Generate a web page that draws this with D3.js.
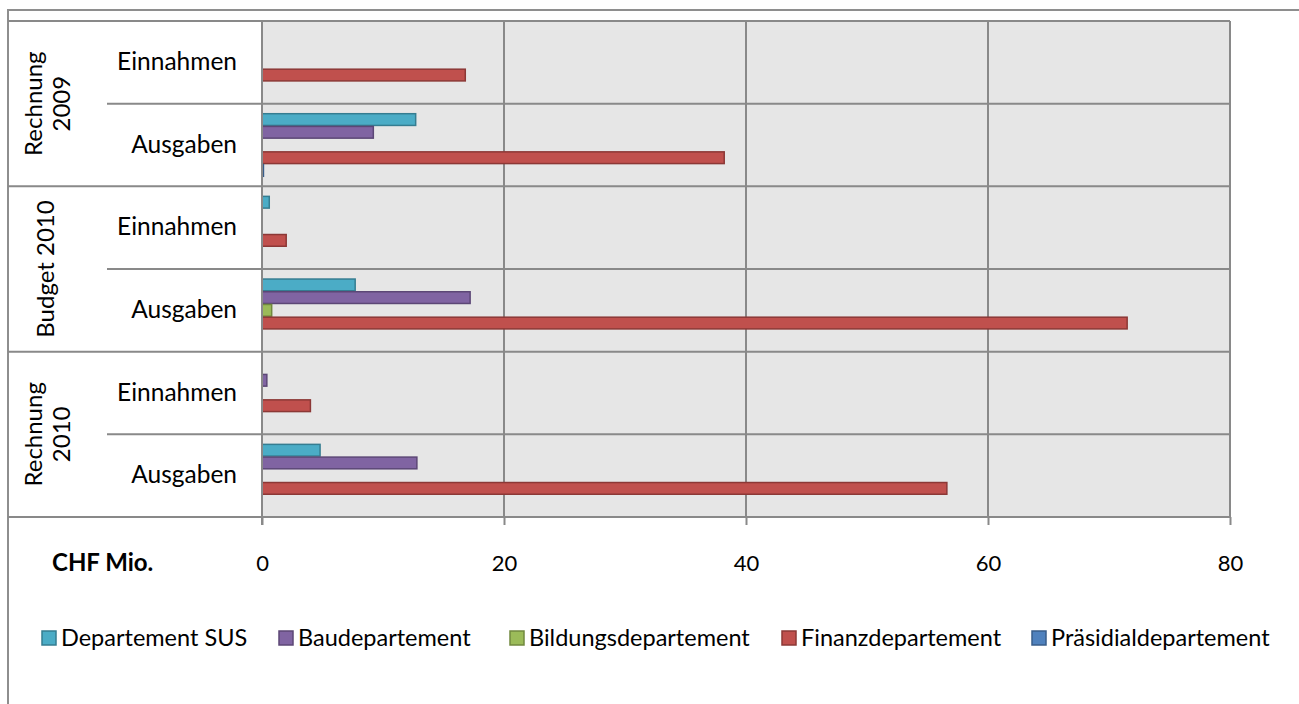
<!DOCTYPE html>
<html>
<head>
<meta charset="utf-8">
<script src="https://cdn.jsdelivr.net/npm/d3@7"></script>
<style>
  body { margin: 0; background: #fff; }
  svg text { font-family: Lato, "Noto Sans", sans-serif; fill: #000; }
</style>
</head>
<body>
<div id="chart"></div>
<script>
// data (CHF Mio.)
var groups = ["Rechnung 2009", "Budget 2010", "Rechnung 2010"];
var groupLines = [["Rechnung", "2009"], ["Budget 2010"], ["Rechnung", "2010"]];
var subCats = ["Einnahmen", "Ausgaben"];
var seriesNames = ["Departement SUS", "Baudepartement", "Bildungsdepartement", "Finanzdepartement", "Präsidialdepartement"];
var seriesColors = ["#4bacc6", "#8064a2", "#9bbb59", "#c0504d", "#4f81bd"];
var seriesStroke = ["#357d91", "#5c4776", "#71893f", "#8c3836", "#385d8a"];
// order of rows: R2009 Ein, R2009 Aus, B2010 Ein, B2010 Aus, R2010 Ein, R2010 Aus
var sus = [0, 12.7, 0.6, 7.7, 0, 4.8];
var bau = [0, 9.2, 0, 17.2, 0.4, 12.8];
var bildung = [0, 0, 0, 0.8, 0, 0];
var finanz = [16.8, 38.2, 2.0, 71.5, 4.0, 56.6];
var praesidial = [0, 0.12, 0, 0, 0, 0];
var xTicks = [0, 20, 40, 60, 80];

var seriesValues = [sus, bau, bildung, finanz, praesidial];

var svgWidth = 1299, svgHeight = 704;
var plot = { left: 262, right: 1230, top: 21, bottom: 517 };
var gridColor = "#898989";

var svg = d3.select("#chart").append("svg")
  .attr("width", svgWidth)
  .attr("height", svgHeight);

// chart area border (only top and left visible)
svg.append("path")
  .attr("d", "M8,704 V10 H1299")
  .attr("fill", "none")
  .attr("stroke", "#8e8e8e")
  .attr("stroke-width", 2);

var x = d3.scaleLinear().domain([0, 80]).range([plot.left, plot.right]);

var rows = [];
groups.forEach(function(g, gi) {
  subCats.forEach(function(s, si) { rows.push({ group: g, gi: gi, sub: s, idx: gi * 2 + si }); });
});

var y = d3.scaleBand()
  .domain(rows.map(d => d.idx))
  .range([plot.top, plot.bottom])
  .padding(0);

// gap width 150% -> the 5 bars take 5 of 6.5 units of a row
var barW = y.bandwidth() / 6.5;
var yInner = d3.scaleBand()
  .domain(seriesNames)
  .range([barW * 0.75, y.bandwidth() - barW * 0.75])
  .padding(0);

// plot background
svg.append("rect")
  .attr("x", plot.left).attr("y", plot.top)
  .attr("width", plot.right - plot.left).attr("height", plot.bottom - plot.top)
  .attr("fill", "#e6e6e6");

// vertical gridlines
svg.append("g").selectAll("line")
  .data(xTicks.filter(d => d > 0))
  .enter().append("line")
  .attr("x1", d => x(d)).attr("x2", d => x(d))
  .attr("y1", plot.top).attr("y2", plot.bottom)
  .attr("stroke", gridColor).attr("stroke-width", 2);

// horizontal lines: group boundaries reach the chart edge, sub boundaries only the inner label column
var bounds = d3.range(rows.length + 1).map(function(i) {
  return { y: plot.top + i * y.bandwidth(), outer: i % 2 === 0 };
});
svg.append("g").selectAll("line")
  .data(bounds)
  .enter().append("line")
  .attr("x1", d => d.outer ? 8 : 107)
  .attr("x2", plot.right)
  .attr("y1", d => d.y).attr("y2", d => d.y)
  .attr("stroke", gridColor).attr("stroke-width", 2);

// bars
var barData = [];
rows.forEach(function(r) {
  seriesNames.forEach(function(s, si) {
    var v = seriesValues[si][r.idx];
    if (v > 0) barData.push({ row: r.idx, series: s, si: si, value: v });
  });
});

svg.append("g").selectAll("rect")
  .data(barData)
  .enter().append("rect")
  .attr("x", x(0))
  .attr("y", d => y(d.row) + yInner(d.series) + 0.5)
  .attr("width", d => Math.max(1, x(d.value) - x(0)))
  .attr("height", yInner.bandwidth() - 1)
  .attr("fill", d => seriesColors[d.si])
  .attr("stroke", d => seriesStroke[d.si])
  .attr("stroke-width", 1.5);

// x axis
var xAxis = d3.axisBottom(x)
  .tickValues(xTicks)
  .tickSize(8)
  .tickPadding(30)
  .tickFormat(d3.format("d"));

var axisG = svg.append("g")
  .attr("transform", `translate(0,${plot.bottom})`)
  .call(xAxis);
axisG.select(".domain").remove();
axisG.selectAll(".tick line").attr("stroke", gridColor).attr("stroke-width", 2);
axisG.selectAll(".tick text")
  .style("font-size", "22px")
  .style("font-family", "Lato, 'Noto Sans', sans-serif");

// value axis line at 0
svg.append("line")
  .attr("x1", plot.left).attr("x2", plot.left)
  .attr("y1", plot.top).attr("y2", plot.bottom + 8)
  .attr("stroke", gridColor).attr("stroke-width", 2);

// sub category labels
svg.append("g").selectAll("text")
  .data(rows)
  .enter().append("text")
  .attr("x", 237)
  .attr("y", d => y(d.idx) + y.bandwidth() / 2 - 1)
  .attr("dy", "0.35em")
  .attr("text-anchor", "end")
  .style("font-size", "24.5px")
  .text(d => d.sub);

// group labels (rotated)
groups.forEach(function(g, gi) {
  var cy = plot.top + (gi * 2 + 1) * y.bandwidth();
  var lines = groupLines[gi];
  var t = svg.append("text")
    .attr("transform", `translate(${lines.length > 1 ? 48 : 46},${cy}) rotate(-90)`)
    .attr("text-anchor", "middle")
    .style("font-size", "24px");
  lines.forEach(function(l, li) {
    t.append("tspan")
      .attr("x", 0)
      .attr("y", (li - (lines.length - 1) / 2) * 28)
      .attr("dy", "0.35em")
      .text(l);
  });
});

// unit label
svg.append("text")
  .attr("x", 52).attr("y", 563)
  .attr("dy", "0.35em")
  .style("font-size", "24px")
  .style("font-weight", "bold")
  .text("CHF Mio.");

// legend
var legendX = [42, 279, 510, 782, 1032];
var legend = svg.append("g").selectAll("g")
  .data(seriesNames)
  .enter().append("g")
  .attr("transform", (d, i) => `translate(${legendX[i]},638)`);

legend.append("rect")
  .attr("x", 0).attr("y", -7)
  .attr("width", 14).attr("height", 14)
  .attr("fill", (d, i) => seriesColors[i])
  .attr("stroke", (d, i) => seriesStroke[i])
  .attr("stroke-width", 1.5);

legend.append("text")
  .attr("x", 19).attr("y", 0)
  .attr("dy", "0.35em")
  .style("font-size", "23.5px")
  .text(d => d);
</script>
</body>
</html>
